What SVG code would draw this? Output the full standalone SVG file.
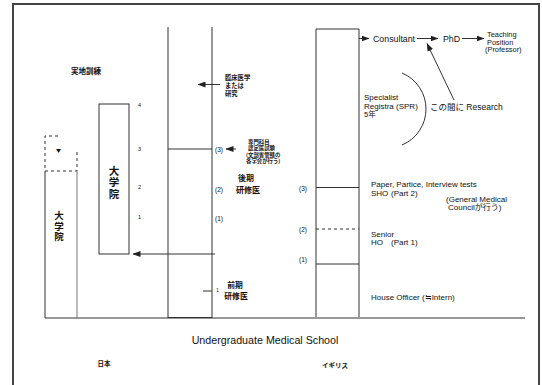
<svg xmlns="http://www.w3.org/2000/svg" width="542" height="385" viewBox="0 0 542 385">
<defs>
<marker id="ah" markerWidth="8" markerHeight="6" refX="7.5" refY="3" orient="auto" markerUnits="userSpaceOnUse"><path d="M0,0 L8,3 L0,6 z" fill="#222"/></marker>
<style>
.ln{stroke:#333;stroke-width:1;fill:none}
.lg{stroke:#777;stroke-width:1;fill:none}
.ds{stroke:#333;stroke-width:1;fill:none;stroke-dasharray:3,3}
.en{font-family:"Liberation Sans",Arial,sans-serif;fill:#111;dominant-baseline:central}
.jp{font-family:"Noto Sans CJK JP","Noto Sans CJK SC",sans-serif;font-weight:bold;fill:#111;dominant-baseline:central}
.jn{font-family:"Liberation Sans","Noto Sans CJK JP","Noto Sans CJK SC",sans-serif;font-weight:normal;fill:#111;dominant-baseline:central}
.vt{font-family:"Noto Sans CJK JP","Noto Sans CJK SC",sans-serif;font-weight:bold;fill:#111;writing-mode:tb;text-anchor:middle;letter-spacing:1px}
</style>
</defs>
<rect width="542" height="385" fill="#fff"/>
<path d="M13,386 V4 H539 V386" stroke="#444" stroke-width="2" fill="none"/>

<g id="baseline">
<line class="ln" x1="45" y1="318" x2="525" y2="318"/>
<text class="en" x="265" y="340" font-size="10.7" text-anchor="middle">Undergraduate Medical School</text>
<text class="jp" x="104" y="363" font-size="6.5" text-anchor="middle">日本</text>
<text class="jp" x="335" y="365" font-size="6.5" text-anchor="middle">イギリス</text>
</g>

<g id="jp-grad-left">
<path class="ds" d="M58,136 H45 V171 H77 V152"/>
<text class="jp" x="58.5" y="149" font-size="5" text-anchor="middle">▼</text>
<line class="ln" x1="45" y1="171" x2="45" y2="318"/>
<line class="lg" x1="77" y1="171" x2="77" y2="318"/>
<text class="vt" x="59" y="226.5" font-size="9.5">大学院</text>
<text class="jp" x="86" y="70" font-size="7.5" text-anchor="middle">実地訓練</text>
</g>

<g id="jp-grad-inner">
<rect class="ln" x="99" y="104" width="30" height="150"/>
<text class="vt" x="114" y="183" font-size="10.5">大学院</text>
<text class="en" x="139.5" y="105" font-size="5.5" text-anchor="middle">4</text>
<text class="en" x="139.5" y="149" font-size="5.5" text-anchor="middle">3</text>
<text class="en" x="139.5" y="187" font-size="5.5" text-anchor="middle">2</text>
<text class="en" x="139.5" y="217" font-size="5.5" text-anchor="middle">1</text>
</g>

<g id="jp-residency">
<line class="ln" x1="168" y1="27" x2="168" y2="318"/>
<line class="ln" x1="212" y1="27" x2="212" y2="318"/>
<line class="ln" x1="168" y1="149" x2="212" y2="149"/>
<line class="ln" x1="168" y1="317.5" x2="212" y2="317.5" stroke-width="1.5"/>
<line class="ln" x1="203" y1="291" x2="212" y2="291"/>
<text class="en" x="219" y="149" font-size="6.5" text-anchor="middle">(3)</text>
<text class="en" x="219" y="189" font-size="6.5" text-anchor="middle">(2)</text>
<text class="en" x="219" y="218" font-size="6.5" text-anchor="middle">(1)</text>
<text class="en" x="217.5" y="290" font-size="4.5" text-anchor="middle">1</text>
<text class="jp" x="235" y="284.5" font-size="7.8" text-anchor="middle">前期</text>
<text class="jp" x="236" y="295.5" font-size="7.8" text-anchor="middle">研修医</text>
<text class="jp" x="246" y="177" font-size="8" text-anchor="middle">後期</text>
<text class="jp" x="248" y="189" font-size="8" text-anchor="middle">研修医</text>
<text class="jp" font-size="6.3"><tspan x="225" y="77">臨床医学</tspan><tspan x="225" y="85">または</tspan><tspan x="225" y="93">研究</tspan></text>
<text class="jp" font-size="5.4"><tspan x="248" y="141.5">専門科目</tspan><tspan x="248" y="148">認定医試験</tspan><tspan x="246" y="154.5">(文部省管轄の</tspan><tspan x="246" y="161">各学会が行う)</tspan></text>
</g>

<g id="uk-training">
<path class="ln" d="M316,317 V29 H359 V317"/>
<line class="ln" x1="316" y1="187.5" x2="359" y2="187.5" stroke-width="1.5"/>
<line class="ds" x1="316" y1="229" x2="359" y2="229"/>
<line class="ln" x1="316" y1="264" x2="359" y2="264"/>
<text class="en" x="303" y="188" font-size="6.5" text-anchor="middle">(3)</text>
<text class="en" x="303" y="229" font-size="6.5" text-anchor="middle">(2)</text>
<text class="en" x="303" y="259" font-size="6.5" text-anchor="middle">(1)</text>
<text class="en" font-size="8"><tspan x="364" y="97">Specialist</tspan><tspan x="364" y="105.5">Registra (SPR)</tspan></text>
<text class="jn" x="364" y="114" font-size="7.5">5年</text>
<text class="en" x="371" y="184.5" font-size="8">Paper, Partice, Interview tests</text>
<text class="en" font-size="8"><tspan x="371" y="193">SHO</tspan><tspan x="391" y="193">(Part 2)</tspan></text>
<text class="en" font-size="8" x="446" y="199.5">(General Medical</text>
<text class="jn" font-size="8" x="448" y="207">Councilが行う)</text>
<text class="en" font-size="8" x="371" y="234">Senior</text>
<text class="en" font-size="8"><tspan x="371" y="242">HO</tspan><tspan x="391" y="242">(Part 1)</tspan></text>
<text class="en" font-size="8" x="371" y="297">House Officer (≒Intern)</text>
</g>

<g id="uk-career">
<text class="en" x="373" y="38.5" font-size="8.8">Consultant</text>
<text class="en" x="443" y="38.5" font-size="8.8">PhD</text>
<text class="en" font-size="7.4"><tspan x="487" y="34">Teaching</tspan><tspan x="487" y="41.5">Position</tspan><tspan x="485" y="49">(Professor)</tspan></text>
<path class="ln" d="M402,73 A39,39 0 0 1 402,145"/>
<text class="jn" x="430" y="107" font-size="8.5">この間に Research</text>
</g>

<g id="connectors">
<line class="ln" x1="215" y1="254" x2="133" y2="254" marker-end="url(#ah)"/>
<line class="ln" x1="220" y1="84.5" x2="198" y2="84.5" marker-end="url(#ah)"/>
<line class="ln" x1="236" y1="149" x2="226" y2="149" marker-end="url(#ah)"/>
<line class="ln" x1="359" y1="38.5" x2="369" y2="38.5" marker-end="url(#ah)"/>
<line class="ln" x1="417" y1="38.5" x2="438" y2="38.5" marker-end="url(#ah)"/>
<line class="ln" x1="462" y1="38.5" x2="484" y2="38.5" marker-end="url(#ah)"/>
<line class="ln" x1="454" y1="100" x2="427" y2="43.5" marker-end="url(#ah)"/>
</g>
</svg>
